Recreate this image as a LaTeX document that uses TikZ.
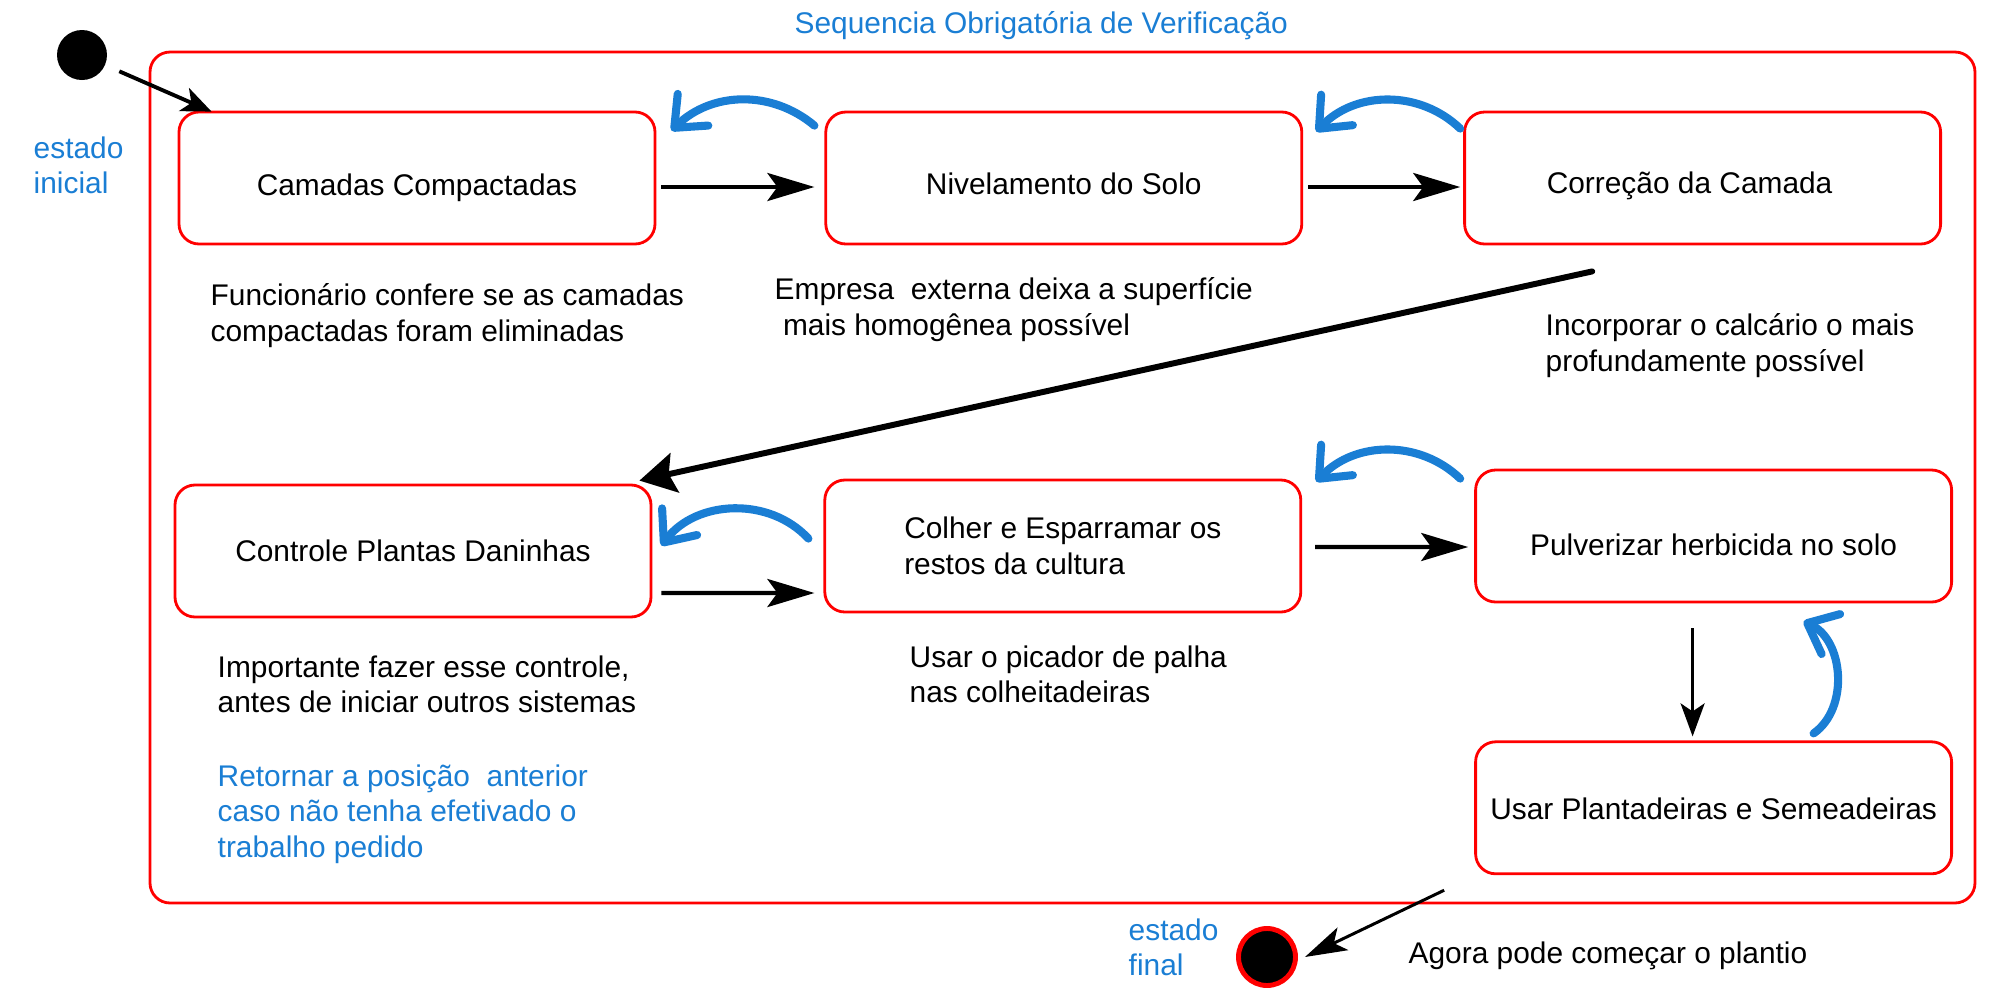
\documentclass[tikz,border=0pt]{standalone}
\usepackage{fontspec}
\setmainfont{Liberation Sans}
\usetikzlibrary{positioning, arrows.meta}
\definecolor{azul}{RGB}{26,126,212}

\tikzset{
	every node/.append style={font=\fontsize{8.5}{10.1}\selectfont},
	caixa/.style={draw=red, line width=0.8pt, rounded corners=2mm, minimum width=47.6mm, minimum height=13.2mm, align=center, inner sep=1pt},
	estado/.style={caixa, text height=2.8mm, text depth=0pt},
	nota/.style={anchor=north west, inner sep=0pt, align=left},
	dica/.style={nota, text=azul},
	passo/.style={-{Stealth[length=4.7mm, width=2.8mm, inset=1mm]}, line width=1.2pt},
	volta/.style={-{Straight Barb[length=2.6mm, width=4.4mm, round]}, draw=azul, line width=2.3pt, line cap=round}
}

\begin{document}
\begin{tikzpicture}
		[x=0.1mm, y=-0.1mm, node distance=16.8mm]
		\useasboundingbox (0,0) rectangle (2000,1000);
		% nodes %
		\node[draw=red, line width=0.8pt, rounded corners=2mm, minimum width=182.5mm, minimum height=85.1mm] (seq) at (1062.5,477.5) {};
		\node[dica] (titulo) at (794,11) {Sequencia Obrigatória de Verificação};
		\node[circle, fill=black, minimum size=5mm, inner sep=0pt] (ini) at (82,55) {};
		\node[dica] (tini) at (33,136) {estado\\inicial};

		\node[estado, text height=3.4mm] (cam) at (417,178) {Camadas Compactadas};
		\node[estado, text height=3.3mm, right=of cam] (niv) {Nivelamento do Solo};
		\node[estado, text height=3mm, right=16mm of niv] (cor) {Correção da Camada\hspace{2.6mm}};
		\node[estado, text height=2mm] (con) at (413,551) {Controle Plantas Daninhas};
		\node[caixa, align=left, right=17.1mm of con, yshift=0.5mm] (col) {Colher e Esparramar os\\restos da cultura};
		\node[estado, text height=3.8mm, right=17.2mm of col, yshift=1mm] (pul) {Pulverizar herbicida no solo};
		\node[estado, text height=2.4mm, below=13.7mm of pul] (usa) {Usar Plantadeiras e Semeadeiras};

		\node[nota] (ncam) at (210,283) {Funcionário confere se as camadas\\compactadas foram eliminadas};
		\node[nota] (nniv) at (774,277) {Empresa\ \ externa deixa a superfície\\\ mais homogênea possível};
		\node[nota] (ncor) at (1545,313) {Incorporar o calcário o mais\\profundamente possível};
		\node[nota] (ncon) at (217,655) {Importante fazer esse controle,\\antes de iniciar outros sistemas};
		\node[nota] (ncol) at (909,645) {Usar o picador de palha\\nas colheitadeiras};
		\node[dica] (retorno) at (217,764) {Retornar a posição\ \ anterior\\caso não tenha efetivado o\\trabalho pedido};

		\node[circle, fill=black, draw=red, line width=1.4pt, minimum size=5.7mm, inner sep=0pt] (fim) at (1267,957) {};
		\node[dica] (tfim) at (1128,918) {estado\\final};
		\node[nota] (nfim) at (1408,941) {Agora pode começar o plantio};

		% edges %
		\draw[-{Stealth[length=3mm, width=2.5mm, inset=0.8mm]}, line width=1.1pt, shorten <=1.5mm] (ini) -- ([shift={(34,1)}]cam.north west);
		\draw[passo] ([shift={(5,9)}]cam.east) -- ([shift={(-10,9)}]niv.west);
		\draw[passo] ([shift={(5,9)}]niv.east) -- ([shift={(-3,9)}]cor.west);
		\coordinate (saida) at ([shift={(129,26)}]cor.south west);
		\draw[-{Stealth[length=3.6mm, width=4mm, inset=0.6mm]}, line width=1.7pt, line cap=round] (saida) -- ([shift={(-13,-3)}]con.north east);
		\draw[passo] ([shift={(9,42)}]con.east) -- ([shift={(-9,47)}]col.west);
		\draw[passo] ([shift={(13,1)}]col.east) -- ([shift={(-6,11)}]pul.west);
		\draw[-{Stealth[length=3.3mm, width=2.4mm, inset=0.8mm]}, line width=0.8pt] ([shift={(-21,25)}]pul.south) -- ([shift={(-21,-4)}]usa.north);
		\coordinate (saida2) at ([shift={(-30,15)}]usa.south west);
		\draw[-{Stealth[length=4.2mm, width=2.5mm, inset=1mm]}, line width=0.85pt] (saida2) -- ([shift={(7,0)}]fim.east);

		% volta %
		\draw[volta] ([shift={(-10,15)}]niv.north west) to[bend right=42] ([shift={(15,20)}]cam.north east);
		\draw[volta] ([shift={(-3,18)}]cor.north west) to[bend right=45] ([shift={(13,21)}]niv.north east);
		\draw[volta] ([shift={(-14,10)}]pul.north west) to[bend right=45] ([shift={(14,3)}]col.north east);
		\draw[volta] ([shift={(-15,60)}]col.north west) to[bend right=50] ([shift={(9,62)}]con.north east);
		\draw[volta] ([shift={(100,-7)}]usa.north) to[bend right=60] ([shift={(90,18)}]pul.south);
\end{tikzpicture}
\end{document}
